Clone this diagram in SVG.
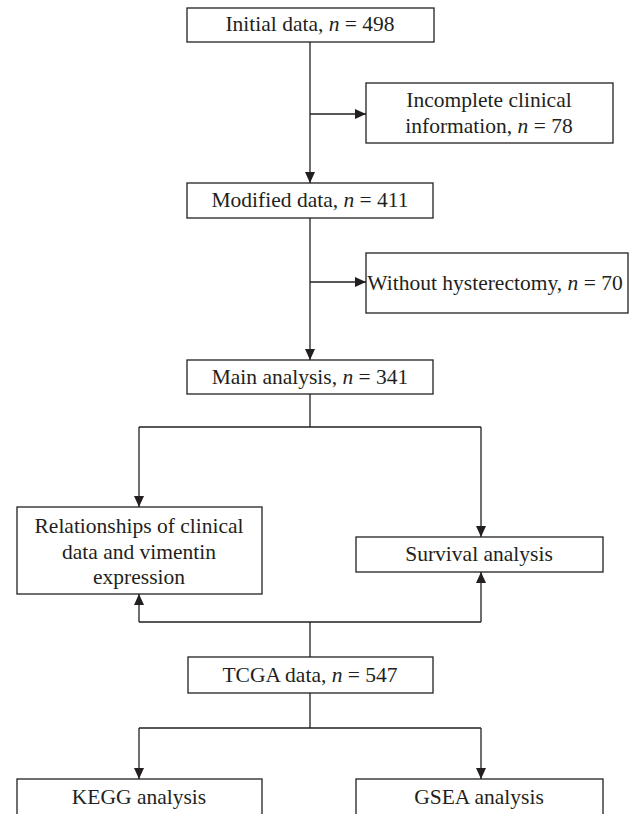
<svg xmlns="http://www.w3.org/2000/svg" width="632" height="814" viewBox="0 0 632 814">
<defs>
<style>
.box{fill:#fff;stroke:#231f20;stroke-width:1.3}
.ln{fill:none;stroke:#231f20;stroke-width:1.3}
.t{font-family:"Liberation Serif","Times New Roman",serif;font-size:21.5px;fill:#231f20;text-anchor:middle}
.i{font-style:italic}
</style>
<marker id="ah" viewBox="0 0 11 10" refX="11" refY="5" markerUnits="userSpaceOnUse" markerWidth="11" markerHeight="10" orient="auto">
<path d="M0,0 L11,5 L0,10 z" fill="#231f20"/>
</marker>
</defs>
<rect width="632" height="814" fill="#fff"/>
<g id="connectors">
<path class="ln" d="M310,42 V183" marker-end="url(#ah)"/>
<path class="ln" d="M310,114 H366" marker-end="url(#ah)"/>
<path class="ln" d="M310,218 V360" marker-end="url(#ah)"/>
<path class="ln" d="M310,282 H366" marker-end="url(#ah)"/>
<path class="ln" d="M310,394 V427 M139,427 H481"/>
<path class="ln" d="M139,427 V507" marker-end="url(#ah)"/>
<path class="ln" d="M481,427 V537" marker-end="url(#ah)"/>
<path class="ln" d="M310,657 V622 M139,622 H481"/>
<path class="ln" d="M139,622 V594" marker-end="url(#ah)"/>
<path class="ln" d="M481,622 V572" marker-end="url(#ah)"/>
<path class="ln" d="M310,693 V728 M139,728 H481"/>
<path class="ln" d="M139,728 V779" marker-end="url(#ah)"/>
<path class="ln" d="M481,728 V779" marker-end="url(#ah)"/>
</g>
<g id="initial">
<rect class="box" x="187" y="8" width="247" height="34"/>
<text class="t" x="310" y="31">Initial data, <tspan class="i">n</tspan> = 498</text>
</g>
<g id="incomplete">
<rect class="box" x="366" y="83" width="247" height="60"/>
<text class="t" x="489" y="107">Incomplete clinical</text>
<text class="t" x="489" y="133">information, <tspan class="i">n</tspan> = 78</text>
</g>
<g id="modified">
<rect class="box" x="187" y="183" width="246" height="35"/>
<text class="t" x="310" y="207">Modified data, <tspan class="i">n</tspan> = 411</text>
</g>
<g id="without">
<rect class="box" x="366" y="253" width="262" height="60"/>
<text class="t" x="495" y="290">Without hysterectomy, <tspan class="i">n</tspan> = 70</text>
</g>
<g id="main">
<rect class="box" x="187" y="360" width="246" height="34"/>
<text class="t" x="310" y="384">Main analysis, <tspan class="i">n</tspan> = 341</text>
</g>
<g id="relationships">
<rect class="box" x="17" y="507" width="245" height="87"/>
<text class="t" x="139" y="533">Relationships of clinical</text>
<text class="t" x="139" y="559">data and vimentin</text>
<text class="t" x="139" y="584">expression</text>
</g>
<g id="survival">
<rect class="box" x="356" y="537" width="247" height="35"/>
<text class="t" x="479" y="561">Survival analysis</text>
</g>
<g id="tcga">
<rect class="box" x="188" y="657" width="245" height="36"/>
<text class="t" x="310" y="682">TCGA data, <tspan class="i">n</tspan> = 547</text>
</g>
<g id="kegg">
<rect class="box" x="17" y="779" width="245" height="40"/>
<text class="t" x="139" y="804">KEGG analysis</text>
</g>
<g id="gsea">
<rect class="box" x="356" y="779" width="247" height="40"/>
<text class="t" x="479" y="804">GSEA analysis</text>
</g>
</svg>
